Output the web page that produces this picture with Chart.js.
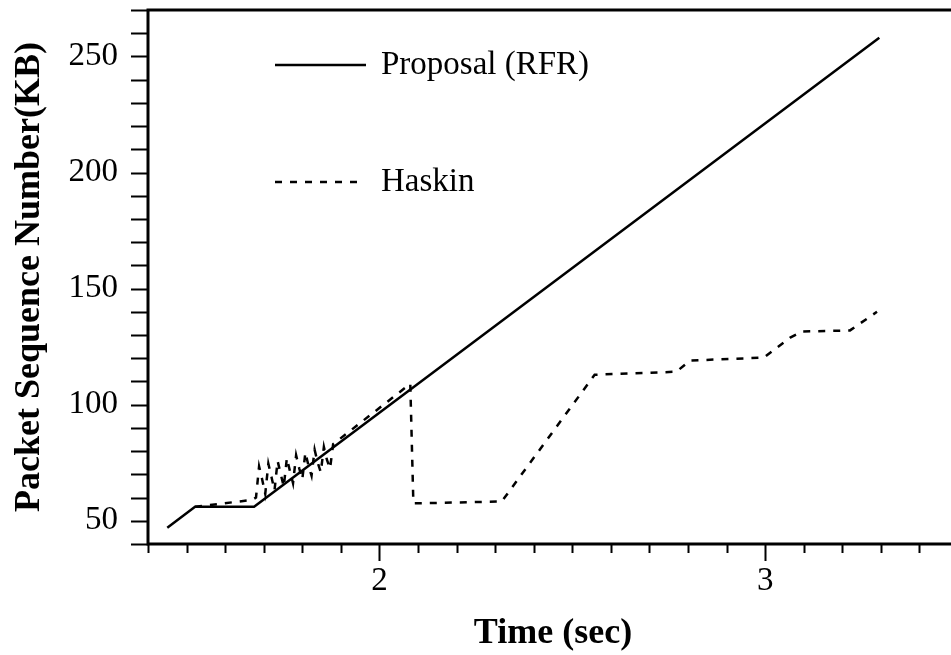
<!DOCTYPE html>
<html>
<head>
<meta charset="utf-8">
<script src="https://cdn.jsdelivr.net/npm/chart.js@4.4.1/dist/chart.umd.min.js"></script>
<style>
  html, body { margin: 0; padding: 0; background: #fff; overflow: hidden; }
  #wrap { width: 958px; height: 655px; }
</style>
</head>
<body>
<div id="wrap"><canvas id="myChart" width="958" height="655"></canvas></div>
<script>
// Proposal (RFR) - solid line
const proposalTime = [1.45, 1.522, 1.675, 3.296];
const proposalSeq = [47, 56, 56, 258];

// Haskin - dashed line (oscillating part around 1.7-1.9 sec)
const haskinTime = [1.522, 1.67,
    1.680, 1.688, 1.696, 1.704, 1.712, 1.720, 1.728, 1.736, 1.744, 1.752, 1.760, 1.768, 1.776,
    1.784, 1.792, 1.800, 1.808, 1.816, 1.824, 1.832, 1.840, 1.848, 1.856, 1.864, 1.872, 1.880,
    2.080, 2.088, 2.317, 2.558, 2.770, 2.805, 2.997, 3.065, 3.096, 3.220, 3.290];
const haskinSeq = [56, 59,
    60.0, 73.4, 67.8, 61.6, 74.6, 69.0, 63.1, 75.8, 70.2, 64.7, 77.0, 71.4, 66.2,
    78.2, 72.6, 67.8, 79.4, 73.8, 69.4, 80.6, 75.0, 70.9, 81.8, 76.2, 72.5, 83.0,
    109, 57.5, 58.3, 112.9, 114.2, 119, 120.3, 128.9, 131.5, 132, 140];

const seriesNames = ['Proposal (RFR)', 'Haskin'];
const xTickLabels = [2, 3];
const yTickLabels = [50, 100, 150, 200, 250];

const serif = "'Liberation Serif', 'Times New Roman', serif";
const haskinDash = [7, 8];

function toPoints(xs, ys) {
    return xs.map((x, i) => ({ x: x, y: ys[i] }));
}

// no extra room for half tick labels, the plot box is fixed
function noPad(scale) {
    scale.paddingTop = 0;
    scale.paddingBottom = 0;
    scale.paddingLeft = 0;
    scale.paddingRight = 0;
}

// axis frame, tick marks and the in-plot legend
const framePlugin = {
    id: 'frame',
    afterDraw(chart) {
        const { ctx, chartArea: a, scales: { x, y } } = chart;
        ctx.save();
        ctx.strokeStyle = '#000';
        ctx.lineWidth = 3;
        ctx.beginPath();
        ctx.moveTo(a.left - 1.5, a.top);
        ctx.lineTo(a.right, a.top);
        ctx.moveTo(a.left, a.top);
        ctx.lineTo(a.left, a.bottom + 1.5);
        ctx.moveTo(a.left - 1.5, a.bottom);
        ctx.lineTo(a.right, a.bottom);
        ctx.stroke();

        ctx.lineWidth = 2;
        ctx.beginPath();
        x.ticks.forEach(t => {
            const px = Math.round(x.getPixelForValue(t.value)) + 0.5;
            const major = Math.abs(t.value - Math.round(t.value)) < 1e-6;
            ctx.moveTo(px, a.bottom);
            ctx.lineTo(px, a.bottom + (major ? 17 : 9));
        });
        y.ticks.forEach(t => {
            const py = Math.round(y.getPixelForValue(t.value)) + 0.5;
            ctx.moveTo(a.left, py);
            ctx.lineTo(a.left - 17, py);
        });
        ctx.stroke();

        // legend
        ctx.lineWidth = 2.5;
        ctx.beginPath();
        ctx.moveTo(275, 65);
        ctx.lineTo(366, 65);
        ctx.stroke();
        ctx.setLineDash(haskinDash);
        ctx.beginPath();
        ctx.moveTo(275, 182);
        ctx.lineTo(360, 182);
        ctx.stroke();
        ctx.setLineDash([]);
        ctx.fillStyle = '#000';
        ctx.font = '33px ' + serif;
        ctx.textBaseline = 'middle';
        ctx.textAlign = 'left';
        ctx.fillText(seriesNames[0], 381, 65);
        ctx.fillText(seriesNames[1], 381, 182);
        ctx.restore();
    }
};

var ctx = document.getElementById('myChart').getContext('2d');
var myChart = new Chart(ctx, {
    type: 'line',
    data: {
        datasets: [
            {
                label: seriesNames[0],
                data: toPoints(proposalTime, proposalSeq),
                borderColor: '#000',
                backgroundColor: '#000',
                borderWidth: 2.5,
                pointRadius: 0,
                fill: false,
                tension: 0
            },
            {
                label: seriesNames[1],
                data: toPoints(haskinTime, haskinSeq),
                borderColor: '#000',
                backgroundColor: '#000',
                borderWidth: 2.5,
                borderDash: haskinDash,
                pointRadius: 0,
                fill: false,
                tension: 0
            }
        ]
    },
    options: {
        responsive: false,
        animation: false,
        layout: { padding: { top: 10, right: 0, bottom: 0, left: 0 } },
        plugins: {
            legend: { display: false },
            tooltip: { enabled: false }
        },
        scales: {
            x: {
                type: 'linear',
                min: 1.4,
                max: 3.5,
                afterFit: function (scale) { scale.height = 111; noPad(scale); },
                grid: { display: false, drawTicks: false },
                border: { display: false },
                ticks: {
                    stepSize: 0.1,
                    autoSkip: false,
                    maxRotation: 0,
                    padding: 18,
                    color: '#000',
                    font: { family: serif, size: 33 },
                    callback: function (val) {
                        const hit = xTickLabels.find(v => Math.abs(v - val) < 1e-6);
                        return hit !== undefined ? String(hit) : '';
                    }
                },
                title: {
                    display: true,
                    text: 'Time (sec)',
                    color: '#000',
                    padding: 0,
                    font: { family: serif, size: 36, weight: 'bold' }
                }
            },
            y: {
                type: 'linear',
                min: 40,
                max: 270,
                afterFit: function (scale) { scale.width = 148; noPad(scale); },
                grid: { display: false, drawTicks: false },
                border: { display: false },
                ticks: {
                    stepSize: 10,
                    autoSkip: false,
                    padding: 30,
                    color: '#000',
                    font: { family: serif, size: 33 },
                    callback: function (val) {
                        return yTickLabels.includes(val) ? String(val) : '';
                    }
                },
                title: {
                    display: true,
                    text: 'Packet Sequence Number(KB)',
                    color: '#000',
                    padding: 8,
                    font: { family: serif, size: 36, weight: 'bold' }
                }
            }
        }
    },
    plugins: [framePlugin]
});
</script>
</body>
</html>
